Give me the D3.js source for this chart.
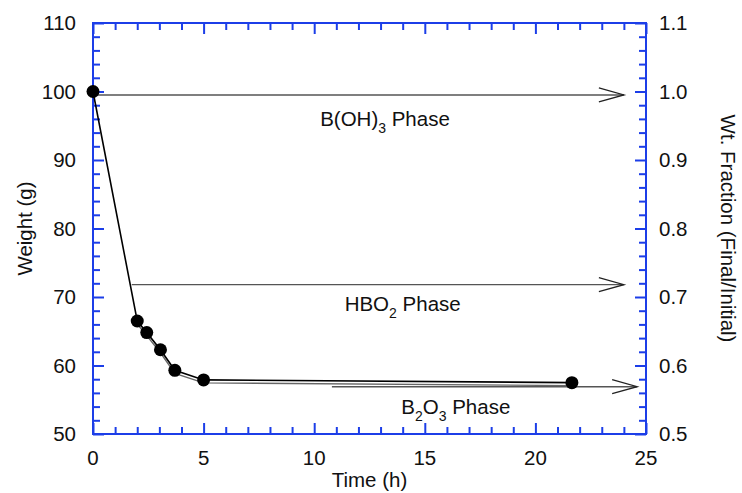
<!DOCTYPE html>
<html>
<head>
<meta charset="UTF-8">
<title>Weight vs time</title>
<style>
  body { margin: 0; background: #fff; }
  text { font-family: "Liberation Sans", Arial, sans-serif; fill: #111; }
  .frame line { stroke: #1c3ee8; stroke-width: 2; }
</style>
<script src="https://cdn.jsdelivr.net/npm/d3@7"></script>
</head>
<body>
<script>
// datos
var tiempo = [0, 2.0, 2.43, 3.05, 3.7, 5.0, 21.65];
var peso   = [100, 66.5, 64.8, 62.3, 59.3, 57.9, 57.5];

// fases: inicio, fin (h) y fraccion
var fases     = ["B(OH)|3| Phase", "HBO|2| Phase", "B|2|O|3| Phase"];
var faseIni   = [0, 1.75, 10.8];
var faseFin   = [24, 24, 24.6];
var faseFrac  = [0.995, 0.718, 0.569];
var faseTexto = [{x: 13.2, y: 0.950}, {x: 14.0, y: 0.680}, {x: 16.4, y: 0.529}];

var ticksX      = [0, 5, 10, 15, 20, 25];
var ticksPeso   = [50, 60, 70, 80, 90, 100, 110];
var ticksFrac   = [0.5, 0.6, 0.7, 0.8, 0.9, 1.0, 1.1];

var ancho = 742, alto = 493, fuente = "20.5px";
var m = {left: 93, right: 96, top: 23, bottom: 59};
var w = ancho - m.left - m.right, h = alto - m.top - m.bottom;

var x = d3.scaleLinear().domain([0, 25]).range([0, w]);
var y = d3.scaleLinear().domain([50, 110]).range([h, 0]);
var y2 = d3.scaleLinear().domain([0.5, 1.1]).range([h, 0]);

var svg = d3.select("body").append("svg")
    .attr("width", ancho).attr("height", alto)
  .append("g")
    .attr("transform", "translate(" + m.left + "," + m.top + ")");

var menoresX = d3.range(0, 26, 1).filter(function(d) { return d % 5 !== 0; });
var menoresY = d3.range(50, 111, 2).filter(function(d) { return d % 10 !== 0; });

// marcas hacia dentro en los cuatro lados
function marcas(eje, valores, largo, tr) {
  svg.append("g").attr("class", "frame").attr("transform", tr)
     .call(eje.tickValues(valores).tickSizeInner(-largo).tickSizeOuter(0).tickFormat(""))
     .select(".domain").remove();
}
[[menoresX, 7], [ticksX, 11]].forEach(function(p) {
  marcas(d3.axisBottom(x), p[0], p[1], "translate(0," + h + ")");
  marcas(d3.axisTop(x), p[0], p[1], "translate(0,0)");
});
[[menoresY, 7], [ticksPeso, 11]].forEach(function(p) {
  marcas(d3.axisLeft(y), p[0], p[1], "translate(0,0)");
  marcas(d3.axisRight(y), p[0], p[1], "translate(" + w + ",0)");
});
svg.append("rect").attr("width", w).attr("height", h)
   .attr("fill", "none").attr("stroke", "#1c3ee8").attr("stroke-width", 2);

// etiquetas de las marcas
svg.selectAll(".tx").data(ticksX).enter().append("text")
   .attr("x", function(d) { return x(d); }).attr("y", h + 31)
   .attr("text-anchor", "middle").style("font-size", fuente).text(function(d) { return d; });
svg.selectAll(".ty").data(ticksPeso).enter().append("text")
   .attr("x", -17).attr("y", function(d) { return y(d) + 7; })
   .attr("text-anchor", "end").style("font-size", fuente).text(function(d) { return d; });
svg.selectAll(".ty2").data(ticksFrac).enter().append("text")
   .attr("x", w + 13).attr("y", function(d) { return y2(d) + 7; })
   .attr("text-anchor", "start").style("font-size", fuente).text(function(d) { return d.toFixed(1); });

svg.append("text").attr("x", w / 2).attr("y", h + 53)
   .attr("text-anchor", "middle").style("font-size", fuente).text("Time (h)");
svg.append("text").attr("transform", "translate(" + (32 - m.left) + "," + h / 2 + ") rotate(-90)")
   .attr("text-anchor", "middle").style("font-size", fuente).text("Weight (g)");
svg.append("text").attr("transform", "translate(" + (721 - m.left) + "," + h / 2 + ") rotate(90)")
   .attr("text-anchor", "middle").style("font-size", fuente).text("Wt. Fraction (Final/Initial)");

// flechas de las fases
var flechas = svg.append("g");
fases.forEach(function(f, i) {
  var x0 = x(faseIni[i]), x1 = x(faseFin[i]), yy = y2(faseFrac[i]);
  flechas.append("line").attr("x1", x0).attr("x2", x1).attr("y1", yy).attr("y2", yy)
     .attr("stroke", "#555").attr("stroke-width", 1.4);
  flechas.append("path")
     .attr("d", "M" + (x1 - 25) + "," + (yy - 7) + "L" + x1 + "," + yy + "L" + (x1 - 25) + "," + (yy + 7))
     .attr("fill", "none").attr("stroke", "#222").attr("stroke-width", 1.3);
  // texto con subindices
  var partes = f.split("|");
  var t = flechas.append("text").attr("x", x(faseTexto[i].x)).attr("y", y2(faseTexto[i].y))
     .attr("text-anchor", "middle").style("font-size", fuente);
  partes.forEach(function(p, j) {
    if (j % 2 === 1) {
      t.append("tspan").attr("dy", 7).style("font-size", "14px").text(p);
    } else {
      t.append("tspan").attr("dy", j === 0 ? 0 : -7).text(p);
    }
  });
});

// curva de peso (linea doble)
var datos = tiempo.map(function(t, i) { return {t: t, p: peso[i]}; });
var linea = d3.line().x(function(d) { return x(d.t); }).y(function(d) { return y(d.p); });
svg.append("path").datum(datos.slice(1)).attr("d", linea)
   .attr("transform", "translate(0,3)")
   .attr("fill", "none").attr("stroke", "#666").attr("stroke-width", 1.4);
svg.append("path").datum(datos).attr("d", linea)
   .attr("fill", "none").attr("stroke", "#000").attr("stroke-width", 1.6);
svg.selectAll(".punto").data(datos).enter().append("circle")
   .attr("cx", function(d) { return x(d.t); }).attr("cy", function(d) { return y(d.p); })
   .attr("r", 6.5).attr("fill", "#000");
</script>
</body>
</html>
